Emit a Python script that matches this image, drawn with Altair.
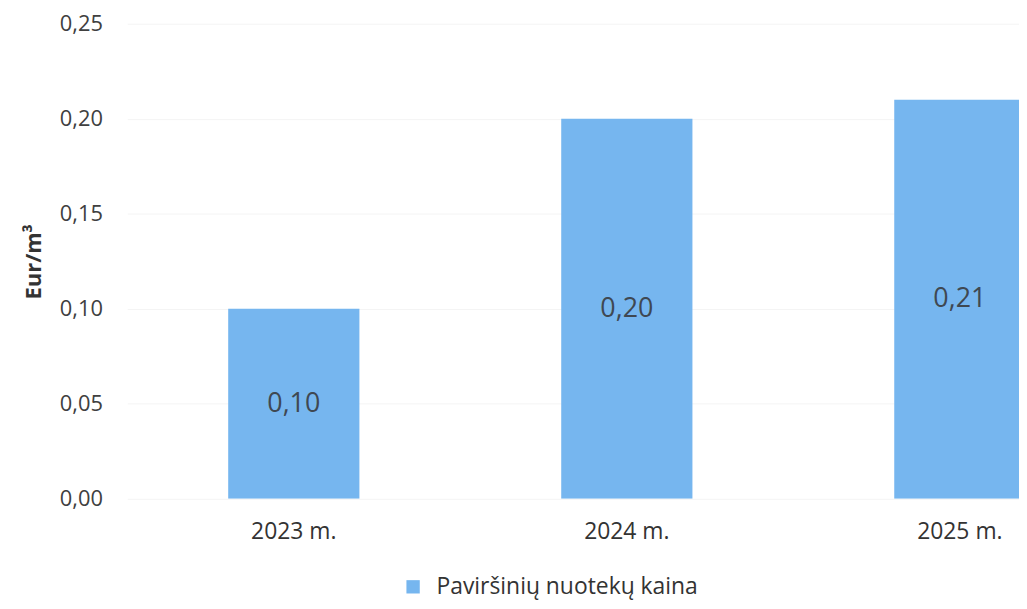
import altair as alt
import pandas as pd

years = ["2023 m.", "2024 m.", "2025 m."]
prices = [0.10, 0.20, 0.21]
series_name = "Paviršinių nuotekų kaina"
y_ticks = [0.0, 0.05, 0.10, 0.15, 0.20, 0.25]

df = pd.DataFrame({"year": years, "price": prices, "series": [series_name] * len(years)})

FONT = "Open Sans"
BAR = "#76B6EF"
fmt_expr = "replace(format(datum.value, '.2f'), '.', ',')"

x_enc = alt.X(
    "year:N",
    sort=years,
    scale=alt.Scale(range=[0, 1005], paddingInner=0.606, paddingOuter=0.303),
    axis=alt.Axis(title=None, labelAngle=0, labelPadding=22, labelFontSize=23,
                  labelColor="#333333", ticks=False, domain=False, grid=False,
                  labelFont=FONT),
)
y_scale = alt.Scale(domain=[0, 0.25])

bars = alt.Chart(df).mark_bar(clip=True).encode(
    x=x_enc,
    y=alt.Y(
        "price:Q",
        scale=y_scale,
        axis=alt.Axis(title="Eur/m³", values=y_ticks, labelExpr=fmt_expr,
                      labelFontSize=22, labelColor="#404040", labelPadding=25,
                      labelFont=FONT, ticks=False, domain=False,
                      grid=True, gridColor="#F4F4F4", gridWidth=1,
                      titleFont=FONT, titleFontSize=22, titleFontWeight="bold",
                      titleColor="#333333", titlePadding=14),
    ),
    color=alt.Color(
        "series:N",
        scale=alt.Scale(range=[BAR]),
        legend=alt.Legend(title=None, orient="none", legendX=276, legendY=555,
                          symbolType="square", symbolSize=180, symbolStrokeWidth=0,
                          labelFontSize=23, labelFont=FONT, labelColor="#333333",
                          labelOffset=12, labelLimit=500, padding=0),
    ),
)

labels = alt.Chart(df).transform_calculate(
    mid="datum.price / 2",
    lbl="replace(format(datum.price, '.2f'), '.', ',')",
).mark_text(fontSize=27, font=FONT, color="#3F4852", baseline="middle", clip=True).encode(
    x=x_enc,
    y=alt.Y("mid:Q", scale=y_scale),
    text="lbl:N",
)

chart = alt.layer(bars, labels).properties(
    width=897,
    height=478,
    autosize=alt.AutoSizeParams(type="none"),
    padding={"left": 120, "top": 14, "right": 0, "bottom": 101},
).configure(background="white").configure_view(stroke=None)

chart.save("out.html", embed_options={"renderer": "svg", "actions": False})
